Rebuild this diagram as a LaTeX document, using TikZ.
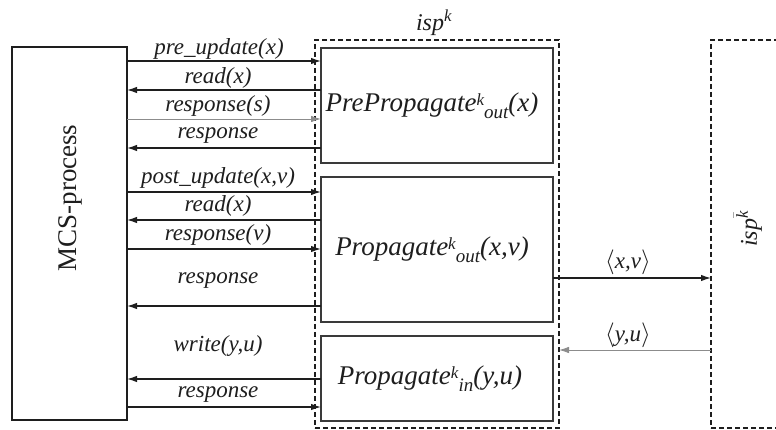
\documentclass[tikz,border=0pt]{standalone}
\usepackage{fontspec}
\setmainfont{Liberation Serif}
\usetikzlibrary{arrows.meta}
\definecolor{ink}{HTML}{1E1E1E}
\definecolor{boxline}{HTML}{3A3A3A}
\definecolor{faint}{HTML}{8C8C8C}
% superscript index followed by a subscript, set side by side
\newcommand{\idx}[2]{\raisebox{0.22em}{\fontsize{17}{17}\selectfont #1}\raisebox{-0.26em}{\fontsize{19}{19}\selectfont #2}}
\begin{document}
\begin{tikzpicture}[x=1pt,y=-1pt,
  every node/.style={inner sep=0pt, outer sep=0pt},
  procbox/.style={draw=boxline, line width=1.3pt, rectangle, text=ink,
    font=\fontsize{27}{30}\selectfont\itshape},
  mainbox/.style={draw=ink, line width=1.8pt, rectangle},
  groupbox/.style={draw=ink, line width=1.4pt, dash pattern=on 5pt off 3pt, rectangle},
  lbl/.style={font=\fontsize{23}{26}\selectfont\itshape, text=ink},
  msg/.style={draw=ink, line width=1.3pt, -{Latex[length=10pt,width=6.5pt]}},
  msglight/.style={draw=faint, line width=0.9pt, -{Latex[length=10pt,width=6.5pt]}}
]
\useasboundingbox (0,0) rectangle (776,430);
\clip (0,0) rectangle (776,430);

% the MCS process
\node[mainbox, minimum width=115pt, minimum height=373pt] (mcs) at (69.5,233.5) {};
\node[rotate=90, font=\fontsize{27}{30}\selectfont, text=ink] (mcslabel) at (70,198) {MCS-process};

% interface sub-process isp^k and its three components
\node[groupbox, minimum width=244pt, minimum height=388pt] (isp) at (437,234) {};
\node[font=\fontsize{24}{27}\selectfont\itshape, text=ink] (isplabel) at (434,23) {isp\textsuperscript{k}};

\node[procbox, minimum width=232pt, minimum height=115pt] (pre) at (437,105.5)
  {\hspace*{-10pt}PrePropagate\idx{k}{out}(x)};
\node[procbox, minimum width=232pt, minimum height=145pt] (pout) at (437,249.5)
  {\hspace*{-10pt}Propagate\idx{k}{out}(x,v)};
\node[procbox, minimum width=232pt, minimum height=85pt] (pin) at (437,378.5)
  {\hspace*{-14pt}Propagate\idx{k}{in}(y,u)};

% the partner interface sub-process
\node[groupbox, minimum width=120pt, minimum height=388pt] (ispbar) at (771,234) {};
\node[rotate=90, font=\fontsize{24}{27}\selectfont\itshape, text=ink] (ispbarlabel) at (748,229)
  {isp\textsuperscript{$\bar{\mathit{k}}$}};

% messages between MCS-process and PrePropagate
\draw[msg] (mcs.east |- 0,61) -- (pre.west |- 0,61);
\draw[msg] (pre.west |- 0,90) -- (mcs.east |- 0,90);
\draw[msglight] (mcs.east |- 0,119) -- (pre.west |- 0,119);
\draw[msg] (pre.west |- 0,148) -- (mcs.east |- 0,148);
\node[lbl] (l1) at (219,49) {pre\_update(x)};
\node[lbl] (l2) at (218,77.5) {read(x)};
\node[lbl] (l3) at (218,106) {response(s)};
\node[lbl] (l4) at (218,135.5) {response};

% messages between MCS-process and Propagate (out)
\draw[msg] (mcs.east |- 0,192) -- (pout.west |- 0,192);
\draw[msg] (pout.west |- 0,220) -- (mcs.east |- 0,220);
\draw[msg] (mcs.east |- 0,249) -- (pout.west |- 0,249);
\draw[msg] (pout.west |- 0,306) -- (mcs.east |- 0,306);
\node[lbl] (l5) at (218,178) {post\_update(x,v)};
\node[lbl] (l6) at (218,206) {read(x)};
\node[lbl] (l7) at (218,234.5) {response(v)};
\node[lbl] (l8) at (218,280.5) {response};

% messages between MCS-process and Propagate (in)
\draw[msg] (pin.west |- 0,379) -- (mcs.east |- 0,379);
\draw[msg] (mcs.east |- 0,407) -- (pin.west |- 0,407);
\node[lbl] (l9) at (218,346.5) {write(y,u)};
\node[lbl] (l10) at (218,395) {response};

% exchange with the partner sub-process
\draw[msg] (pout.east |- 0,278) -- (ispbar.west |- 0,278);
\draw[msglight] (ispbar.west |- 0,350) -- (isp.east |- 0,350);
\node[lbl] (xv) at (628,262.5) {$\langle$x,v$\rangle$};
\node[lbl] (yu) at (628,335) {$\langle$y,u$\rangle$};
\end{tikzpicture}
\end{document}
